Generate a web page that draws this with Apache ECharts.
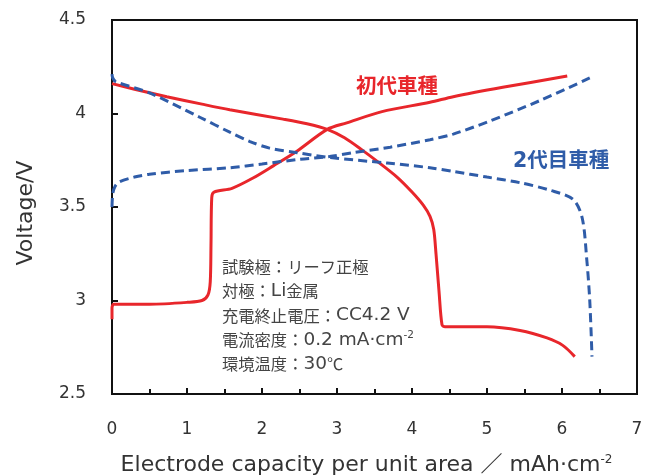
<!DOCTYPE html>
<html>
<head>
<meta charset="utf-8">
<script src="https://cdn.jsdelivr.net/npm/echarts@6/dist/echarts.min.js"></script>
<style>
  html, body { margin: 0; padding: 0; background: #fff; }
  #chart { width: 654px; height: 476px; }
</style>
</head>
<body>
<div id="chart"></div>
<script>
// Charge / discharge curves, [capacity mAh·cm-2, voltage V]
const gen1Charge = [
  [0, 2.90], [0, 2.96], [0.02, 2.98], [0.1, 2.98], [0.5, 2.98], [1.0, 2.99],
  [1.2, 3.00], [1.28, 3.03], [1.31, 3.10], [1.32, 3.30], [1.33, 3.55], [1.36, 3.58],
  [1.6, 3.60], [1.88, 3.655], [2.15, 3.72], [2.47, 3.80], [2.87, 3.915],
  [3.13, 3.95], [3.6, 4.01], [4.24, 4.06], [4.55, 4.09], [5.21, 4.14], [6.07, 4.20]
];
const gen1Discharge = [
  [0, 4.16], [0.3, 4.13], [0.73, 4.09], [1.2, 4.05], [1.57, 4.02], [2.28, 3.97],
  [2.6, 3.945], [2.87, 3.915], [3.1, 3.87], [3.35, 3.80], [3.55, 3.74],
  [3.8, 3.66], [4.0, 3.58], [4.15, 3.51], [4.24, 3.45], [4.29, 3.38], [4.32, 3.25],
  [4.36, 3.05], [4.40, 2.87], [4.44, 2.86], [5.0, 2.86], [5.44, 2.84], [5.8, 2.80],
  [6.01, 2.76], [6.17, 2.70]
];
const gen2Charge = [
  [0, 3.50], [0.01, 3.57], [0.04, 3.61], [0.1, 3.635], [0.3, 3.66], [0.5, 3.675],
  [1.0, 3.695], [1.57, 3.71], [2.0, 3.73], [2.5, 3.755], [2.9, 3.77], [3.21, 3.79],
  [3.71, 3.82], [4.24, 3.86], [4.55, 3.89], [5.04, 3.96], [5.71, 4.07], [6.37, 4.19]
];
const gen2Discharge = [
  [0, 4.21], [0.01, 4.19], [0.05, 4.17], [0.5, 4.11], [1.17, 3.98], [1.57, 3.90],
  [1.84, 3.85], [2.1, 3.815], [2.47, 3.79], [2.9, 3.765], [3.67, 3.735], [4.24, 3.71],
  [4.55, 3.69], [5.0, 3.66], [5.44, 3.63], [5.84, 3.59], [6.15, 3.54], [6.27, 3.44],
  [6.33, 3.22], [6.37, 3.00], [6.40, 2.70]
];

const seriesNames = ['初代車種', '2代目車種'];
// Test conditions; {l|...} runs are Latin text, {sup|...} superscripts
const conditions = [
  '試験極：リーフ正極',
  '対極：{l|Li}金属',
  '充電終止電圧：{l|CC4.2 V}',
  '電流密度：{l|0.2 mA·cm}{sup|-2}',
  '環境温度：{l|30}℃'
];
const xLabel = 'Electrode capacity per unit area ／ mAh·cm{sup|-2}';
const yLabel = 'Voltage/V';

const FONT = '"DejaVu Sans", "Noto Sans CJK JP", sans-serif';
const CJK = '"Noto Sans CJK JP", sans-serif';
const RED = '#e8262b';
const BLUE = '#2f5ca8';
const TEXT = '#444';

const chart = echarts.init(document.getElementById('chart'), null, { renderer: 'canvas' });

function solid(data) {
  return {
    type: 'line', data, showSymbol: false, smooth: 0.3, animation: false,
    lineStyle: { color: RED, width: 3 }
  };
}
function dashed(data) {
  return {
    type: 'line', data, showSymbol: false, smooth: 0.3, animation: false,
    lineStyle: { color: BLUE, width: 3, type: [9, 5] }
  };
}

const textGraphics = conditions.map((t, i) => ({
  type: 'text', x: 222, y: 267 + i * 24.3,
  style: {
    text: t, fill: TEXT, font: '16.3px ' + CJK, verticalAlign: 'middle',
    rich: {
      l: { fontFamily: FONT, fontSize: 18.5, fill: TEXT, height: 20 },
      sup: { fontFamily: FONT, fontSize: 10.5, fill: TEXT, verticalAlign: 'top', padding: [0, 0, 7, 0] }
    }
  }
}));

chart.setOption({
  animation: false,
  grid: {
    left: 112, top: 20, right: 17, bottom: 82, outerBoundsMode: 'none',
    show: true, borderColor: '#111', borderWidth: 2
  },
  xAxis: {
    type: 'value', min: 0, max: 7, interval: 1,
    name: xLabel, nameLocation: 'middle', nameGap: 60,
    nameTextStyle: {
      fontFamily: FONT, fontSize: 22, color: '#333', padding: [0, 16, 0, 0],
      rich: { sup: { fontFamily: FONT, fontSize: 12, color: '#333', verticalAlign: 'top', padding: [0, 0, 9, 0] } }
    },
    axisLine: { lineStyle: { color: '#111', width: 2 } },
    axisTick: { inside: true, length: 6, lineStyle: { color: '#111', width: 2 } },
    minorTick: { show: true, splitNumber: 2, length: 5, lineStyle: { color: '#111', width: 2 } },
    axisLabel: { fontFamily: FONT, fontSize: 17, color: '#333', margin: 27 },
    splitLine: { show: false }
  },
  yAxis: {
    type: 'value', min: 2.5, max: 4.5, interval: 0.5,
    name: yLabel, nameLocation: 'middle', nameGap: 75, nameRotate: 90,
    nameTextStyle: { fontFamily: FONT, fontSize: 22, color: '#333', padding: [0, 12, 0, 0] },
    axisLine: { lineStyle: { color: '#111', width: 2 } },
    axisTick: { inside: true, length: 6, lineStyle: { color: '#111', width: 2 } },
    axisLabel: { fontFamily: FONT, fontSize: 17, color: '#333', margin: 26, padding: [10, 0, 0, 0] },
    splitLine: { show: false }
  },
  series: [
    solid(gen1Charge), solid(gen1Discharge),
    dashed(gen2Charge), dashed(gen2Discharge)
  ],
  graphic: [
    {
      type: 'text', x: 356, y: 88,
      style: { text: seriesNames[0], fill: RED, font: 'bold 20.5px ' + FONT, verticalAlign: 'middle' }
    },
    {
      type: 'text', x: 513, y: 162,
      style: { text: seriesNames[1], fill: BLUE, font: 'bold 20.5px ' + FONT, verticalAlign: 'middle' }
    }
  ].concat(textGraphics)
});
</script>
</body>
</html>
